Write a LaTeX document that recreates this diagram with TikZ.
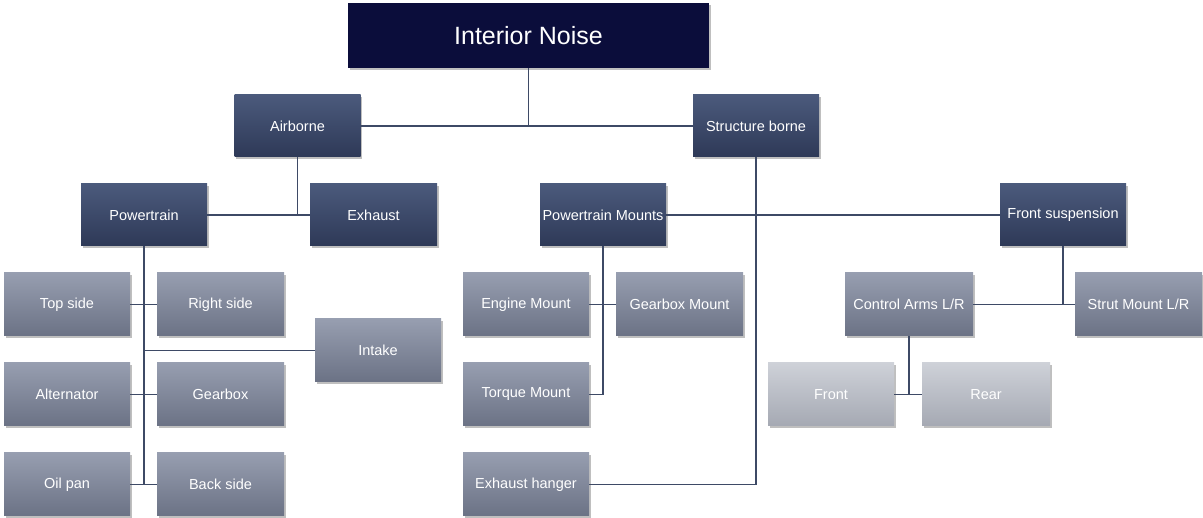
\documentclass[tikz,border=0pt]{standalone}
\usepackage{fontspec}
\setmainfont{Liberation Sans}
\usetikzlibrary{shadows}
\definecolor{navy}{HTML}{0B0D3B}
\definecolor{ltop}{HTML}{4B5A7C}
\definecolor{lbot}{HTML}{2E3957}
\definecolor{mtop}{HTML}{979EB0}
\definecolor{mbot}{HTML}{6B7285}
\definecolor{gtop}{HTML}{CED1D8}
\definecolor{gbot}{HTML}{A5A9B3}
\definecolor{linec}{HTML}{3E4A66}
\tikzset{
  box/.style={rectangle, minimum width=126pt, minimum height=63pt, inner sep=0pt,
    text=white, font=\fontsize{14.5}{16}\selectfont,
    drop shadow={shadow xshift=1.5pt, shadow yshift=-2pt, opacity=0.25, fill=black}},
  rootbox/.style={box, fill=navy, minimum width=361pt, minimum height=65pt, font=\fontsize{25}{28}\selectfont},
  lvtwo/.style={box, top color=ltop, bottom color=lbot, minimum height=62pt},
  lvthree/.style={box, top color=mtop, bottom color=mbot},
  lvfour/.style={box, top color=gtop, bottom color=gbot},
  conn/.style={draw=linec, line width=1.4pt}
}
\begin{document}
\begin{tikzpicture}[x=1pt, y=-1pt]
\useasboundingbox (0,0) rectangle (1203,518);
\node[rootbox] (root) at (528.5,35.5) {Interior Noise};
\node[lvtwo] (air) at (297.5,126) {Airborne};
\node[lvtwo] (str) at (756,126) {Structure borne};
\node[lvtwo] (pt) at (144,215) {Powertrain};
\node[lvtwo, minimum width=127pt] (exh) at (373.5,215) {Exhaust};
\node[lvtwo] (ptm) at (603,215) {Powertrain Mounts};
\node[lvtwo] (fs) at (1063,215) {Front suspension};
\node[lvthree] (top) at (67,304.5) {Top side};
\node[lvthree, minimum width=127pt] (right) at (220.5,304.5) {Right side};
\node[lvthree] (intake) at (378,350.5) {Intake};
\node[lvthree] (alt) at (67,394.5) {Alternator};
\node[lvthree, minimum width=127pt] (gear) at (220.5,394.5) {Gearbox};
\node[lvthree] (oil) at (67,484.5) {Oil pan};
\node[lvthree, minimum width=127pt] (back) at (220.5,484.5) {Back side};
\node[lvthree] (eng) at (526,304.5) {Engine Mount};
\node[lvthree, minimum width=127pt] (gbm) at (679.5,304.5) {Gearbox Mount};
\node[lvthree] (torque) at (526,394.5) {Torque Mount};
\node[lvthree] (hanger) at (526,484.5) {Exhaust hanger};
\node[lvthree, minimum width=128pt] (ctrl) at (909,304.5) {Control Arms L/R};
\node[lvthree, minimum width=127pt] (strut) at (1138.5,304.5) {Strut Mount L/R};
\node[lvfour] (front) at (831,394.5) {Front};
\node[lvfour, minimum width=128pt] (rear) at (986,394.5) {Rear};
% connectors
\draw[conn] (root.south) -- (root.south |- air.east);
\draw[conn] (air.east) -- (str.west);
\draw[conn] (air.south) -- (air.south |- pt.east);
\draw[conn] (pt.east) -- (exh.west);
\draw[conn] (str.south) |- (hanger.east);
\draw[conn] (ptm.east) -- (fs.west);
\draw[conn] (pt.south) -- (pt.south |- oil.east);
\draw[conn] (top.east) -- (right.west);
\draw[conn] (alt.east) -- (gear.west);
\draw[conn] (oil.east) -- (back.west);
\draw[conn] (pt.south |- intake.west) -- (intake.west);
\draw[conn] (ptm.south) |- (torque.east);
\draw[conn] (eng.east) -- (gbm.west);
\draw[conn] (fs.south) -- (fs.south |- strut.west);
\draw[conn] (ctrl.east) -- (strut.west);
\draw[conn] (ctrl.south) -- (ctrl.south |- front.east);
\draw[conn] (front.east) -- (rear.west);
\end{tikzpicture}
\end{document}
